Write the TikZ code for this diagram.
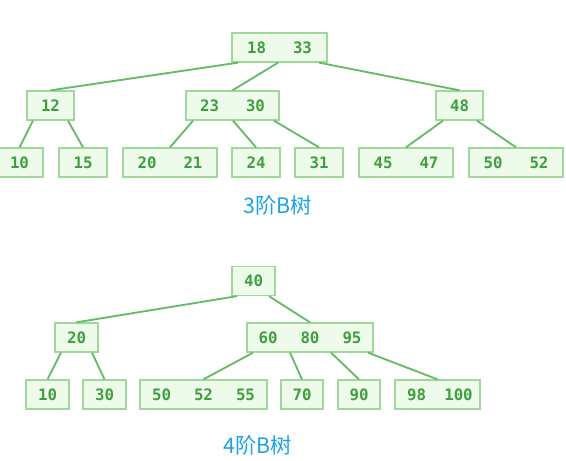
\documentclass[tikz,border=0pt]{standalone}
\usepackage{fontspec}
\setmonofont{DejaVu Sans Mono}
\newfontfamily\cjk{Noto Sans CJK SC}
\usetikzlibrary{calc}
\definecolor{boxfill}{HTML}{EEFBEA}
\definecolor{boxline}{HTML}{9FD89A}
\definecolor{keytext}{HTML}{3F9F3F}
\definecolor{linkline}{HTML}{66BB66}
\definecolor{captext}{HTML}{1BA3E6}
\newlength\keyw
\newcommand{\kb}[1]{\makebox[\keyw]{#1}}
\begin{document}
\begin{tikzpicture}[x=0.75pt,y=-0.75pt,
  key/.style={draw=boxline,fill=boxfill,line width=1pt,inner sep=0pt,minimum height=21.75pt,
    font=\ttfamily\bfseries\fontsize{11.8}{13}\selectfont,text=keytext},
  link/.style={draw=linkline,line width=1.4pt},
  treetitle/.style={font=\cjk\fontsize{16}{19}\selectfont,text=captext}]
\useasboundingbox(0,0)rectangle(566,460);
% 3阶B树
\setlength\keyw{34.5pt}
\node[key,minimum width=71.25pt](r)at(279.5,47.5){\kb{18}\kb{33}};
\node[key,minimum width=35.25pt](a)at(50.5,105.5){12};
\node[key,minimum width=69.75pt](b)at(232.5,105.5){\kb{23}\kb{30}};
\node[key,minimum width=35.25pt](c)at(459.5,105.5){48};
\node[key,minimum width=35.25pt](a1)at(19.5,162.5){10};
\node[key,minimum width=36pt](a2)at(83,162.5){15};
\node[key,minimum width=70.5pt](b1)at(170,162.5){\kb{20}\kb{21}};
\node[key,minimum width=36pt](b2)at(256,162.5){24};
\node[key,minimum width=36pt](b3)at(319,162.5){31};
\node[key,minimum width=70.5pt](c1)at(406,162.5){\kb{45}\kb{47}};
\node[key,minimum width=70.5pt](c2)at(516,162.5){\kb{50}\kb{52}};
\draw[link]($(r.south)+(-41.5,0)$)--(a.north);
\draw[link]($(r.south)+(-1.5,0)$)--(b.north);
\draw[link]($(r.south)+(39.5,0)$)--(c.north);
\draw[link]($(a.south)+(-17.5,0)$)--(a1.north);
\draw[link]($(a.south)+(17.5,0)$)--(a2.north);
\draw[link]($(b.south)+(-39.5,0)$)--(b1.north);
\draw[link]($(b.south)+(0.5,0)$)--(b2.north);
\draw[link]($(b.south)+(41.5,0)$)--(b3.north);
\draw[link]($(c.south)+(-16.5,0)$)--(c1.north);
\draw[link]($(c.south)+(17.5,0)$)--(c2.north);
\node[treetitle](t3)at(278,205){3阶B树};
% 4阶B树
\setlength\keyw{31.5pt}
\node[key,minimum width=32.25pt](s)at(253.5,281){40};
\node[key,minimum width=32.25pt](d)at(76.5,337.5){20};
\node[key,minimum width=94.5pt](e)at(310,337.5){\kb{60}\kb{80}\kb{95}};
\node[key,minimum width=32.25pt](d1)at(47.5,394.5){10};
\node[key,minimum width=32.25pt](d2)at(104.5,394.5){30};
\node[key,minimum width=95.25pt](e1)at(203.5,394.5){\kb{50}\kb{52}\kb{55}};
\node[key,minimum width=31.5pt](e2)at(302,394.5){70};
\node[key,minimum width=31.5pt](e3)at(359,394.5){90};
\node[key,minimum width=63.75pt](e4)at(437.5,394.5){\kb{98}\kb{100}};
\draw[link]($(s.south)+(-16.5,0)$)--(d.north);
\draw[link]($(s.south)+(15.5,0)$)--(e.north);
\draw[link]($(d.south)+(-15.5,0)$)--(d1.north);
\draw[link]($(d.south)+(15.5,0)$)--(d2.north);
\draw[link]($(e.south)+(-57,0)$)--(e1.north);
\draw[link]($(e.south)+(-20,0)$)--(e2.north);
\draw[link]($(e.south)+(21,0)$)--(e3.north);
\draw[link]($(e.south)+(58,0)$)--(e4.north);
\node[treetitle](t4)at(258,445){4阶B树};
\end{tikzpicture}
\end{document}
